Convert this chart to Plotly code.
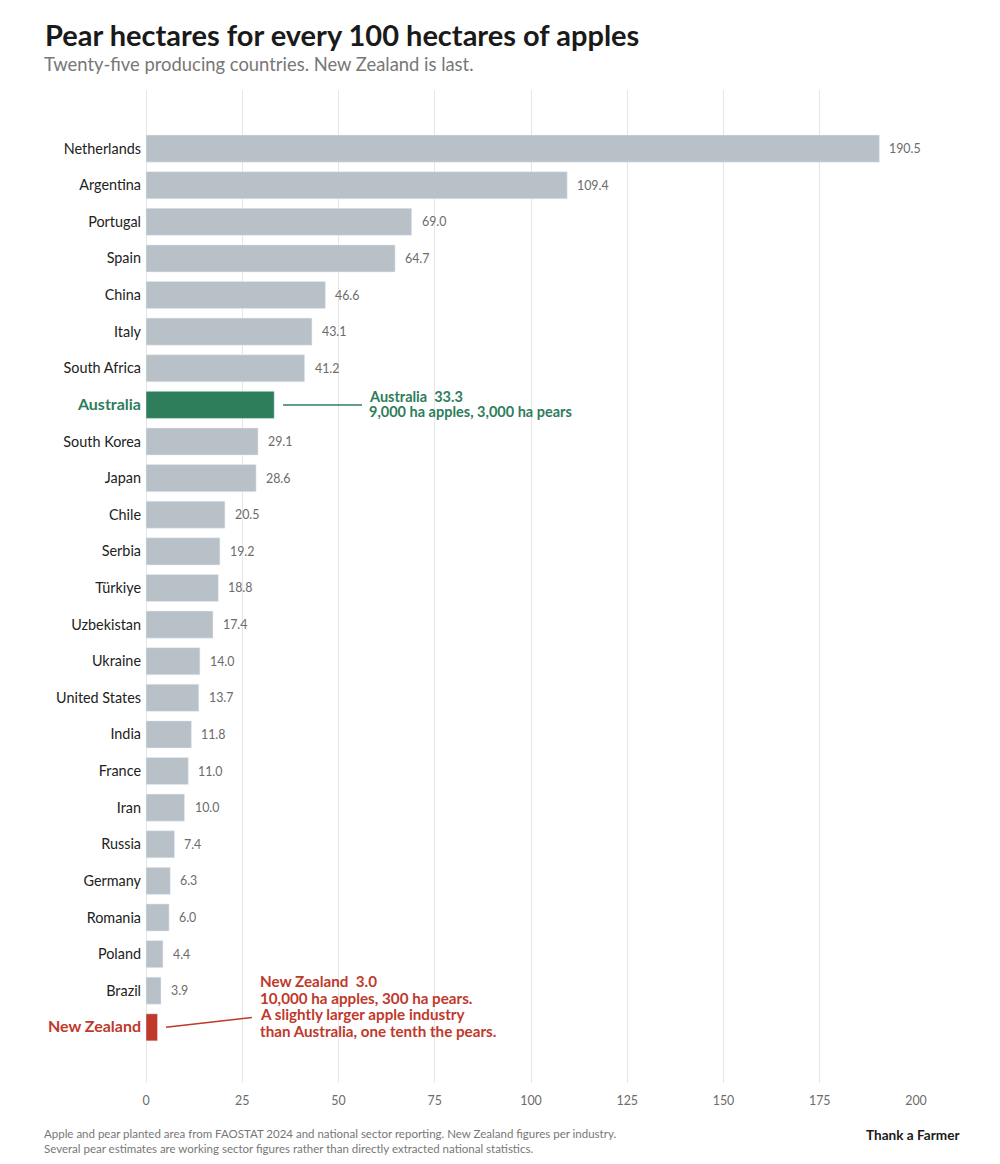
import plotly.graph_objects as go

# data
COUNTRIES = ["Netherlands", "Argentina", "Portugal", "Spain", "China", "Italy",
             "South Africa", "Australia", "South Korea", "Japan", "Chile", "Serbia",
             "Türkiye", "Uzbekistan", "Ukraine", "United States", "India", "France",
             "Iran", "Russia", "Germany", "Romania", "Poland", "Brazil", "New Zealand"]
RATIO = [190.5, 109.4, 69.0, 64.7, 46.6, 43.1, 41.2, 33.3, 29.1, 28.6, 20.5, 19.2,
         18.8, 17.4, 14.0, 13.7, 11.8, 11.0, 10.0, 7.4, 6.3, 6.0, 4.4, 3.9, 3.0]
X_TICKS = [0, 25, 50, 75, 100, 125, 150, 175, 200]

AUS_NOTE = ["Australia  33.3", "9,000 ha apples, 3,000 ha pears"]
NZ_NOTE = ["New Zealand  3.0", "10,000 ha apples, 300 ha pears.",
           "A slightly larger apple industry", "than Australia, one tenth the pears."]

GREY = "#b9c1c8"
GREEN = "#2e7d5b"
RED = "#c0392b"
HIGHLIGHT = {"Australia": GREEN, "New Zealand": RED}

# page has an 8px body margin
OFF = 8
W, H = 1000 - OFF, 1164 - OFF
L, T = 144 - OFF, 90 - OFF
R = W - (916 - OFF)
B = H - (1083 - OFF)
PW, PH = W - L - R, H - T - B
X_MIN = -2 * 200 / (916 - 146)   # small pad so the 0 gridline shows


def px_x(px):
    return (px - OFF - L) / PW


def px_y(py):
    return (H - B - (py - OFF)) / PH


colors = [HIGHLIGHT.get(c, GREY) for c in COUNTRIES]
ypos = list(range(len(COUNTRIES)))

ticktext = []
for c in COUNTRIES:
    if c in HIGHLIGHT:
        ticktext.append('<span style="font-size:16px;font-weight:bold;color:%s">%s</span>'
                        % (HIGHLIGHT[c], c))
    else:
        ticktext.append(c)

fig = go.Figure()
fig.add_trace(go.Bar(x=RATIO, y=ypos, orientation="h", marker_color=colors,
                     width=0.74, hoverinfo="skip", showlegend=False))

annotations = []
for i, (c, v) in enumerate(zip(COUNTRIES, RATIO)):
    if c in HIGHLIGHT:
        continue
    annotations.append(dict(x=v, y=i, xref="x", yref="y", text="%.1f" % v,
                            showarrow=False, xanchor="left", yanchor="middle",
                            xshift=8, font=dict(size=12.4, color="#6b6b6b")))

# Australia callout
aus = COUNTRIES.index("Australia")
for line, shift in zip(AUS_NOTE, [8, -7]):
    annotations.append(dict(x=57.4, y=aus, xref="x", yref="y", xanchor="left", yanchor="middle",
                            yshift=shift, showarrow=False, text="<b>%s</b>" % line,
                            font=dict(size=14.5, color=GREEN)))
# New Zealand callout
nz = COUNTRIES.index("New Zealand")
for line, shift in zip(NZ_NOTE, [46, 29.5, 13, -4]):
    annotations.append(dict(x=29.1, y=nz, xref="x", yref="y", xanchor="left", yanchor="middle",
                            yshift=shift, showarrow=False, text="<b>%s</b>" % line,
                            font=dict(size=15.2, color=RED)))

# title, subtitle, footer
annotations += [
    dict(x=px_x(43), y=px_y(35), xref="paper", yref="paper", xanchor="left",
         yanchor="middle", showarrow=False,
         text="<b>Pear hectares for every 100 hectares of apples</b>",
         font=dict(size=29, color="#1a1a1a")),
    dict(x=px_x(42), y=px_y(64), xref="paper", yref="paper", xanchor="left",
         yanchor="middle", showarrow=False,
         text="Twenty-five producing countries. New Zealand is last.",
         font=dict(size=18.4, color="#777777")),
    dict(x=px_x(42), y=px_y(1141), xref="paper", yref="paper", xanchor="left",
         yanchor="middle", showarrow=False, align="left",
         text=("Apple and pear planted area from FAOSTAT 2024 and national sector reporting. "
               "New Zealand figures per industry.<br>Several pear estimates are working sector "
               "figures rather than directly extracted national statistics."),
         font=dict(size=11.5, color="#777777")),
    dict(x=px_x(962), y=px_y(1135), xref="paper", yref="paper", xanchor="right",
         yanchor="middle", showarrow=False, text="<b>Thank a Farmer</b>",
         font=dict(size=13.6, color="#1a1a1a")),
]

shapes = [
    dict(type="line", xref="x", yref="y", x0=35.6, x1=56.1, y0=aus, y1=aus,
         line=dict(color=GREEN, width=1.5)),
    dict(type="line", xref="x", yref="y", x0=5.2, x1=27.5, y0=nz, y1=nz - 0.27,
         line=dict(color=RED, width=1.5)),
]

fig.update_layout(
    width=W, height=H,
    margin=dict(l=L, r=R, t=T, b=B),
    paper_bgcolor="white", plot_bgcolor="white",
    font=dict(family="Lato", color="#222222"),
    annotations=annotations,
    shapes=shapes,
    xaxis=dict(range=[X_MIN, 200], tickvals=X_TICKS, showgrid=True, gridcolor="#e6e6e6",
               gridwidth=1, zeroline=False, showline=False, ticks="",
               ticklabelstandoff=9,
               tickfont=dict(size=12.4, color="#6b6b6b"), fixedrange=True),
    yaxis=dict(range=[len(COUNTRIES) + 0.52, -1.6], tickvals=ypos, ticktext=ticktext,
               showgrid=False, zeroline=False, showline=False, ticks="",
               ticklabelstandoff=2,
               tickfont=dict(size=14.4, color="#222222"), fixedrange=True),
)

fig.write_html("out.html")
